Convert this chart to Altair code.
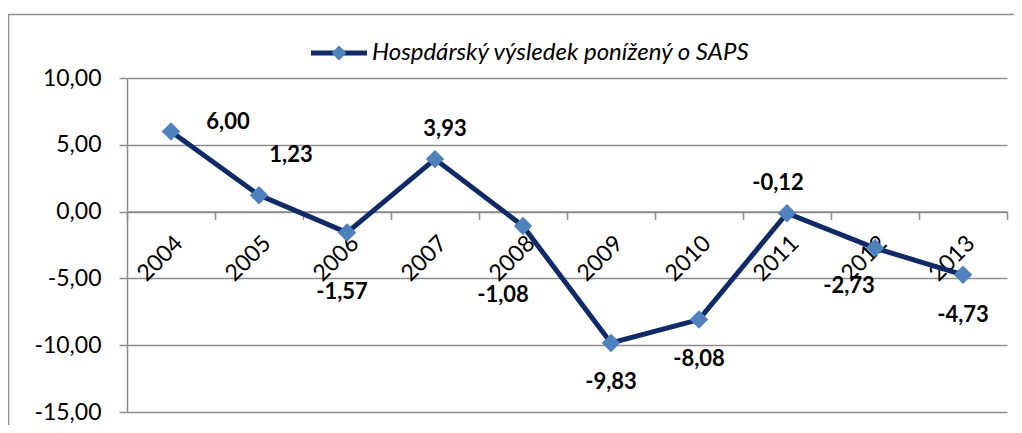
import altair as alt
import pandas as pd

# ---- data ----
years = ["2004", "2005", "2006", "2007", "2008", "2009", "2010", "2011", "2012", "2013"]
values = [6.00, 1.23, -1.57, 3.93, -1.08, -9.83, -8.08, -0.12, -2.73, -4.73]
y_ticks = [-15, -10, -5, 0, 5, 10]
series_name = "Hospdárský výsledek ponížený o SAPS"

# ---- style: data-label offsets (px) per year ----
LABEL_OFFSETS = {
    "2004": (57, -9),
    "2005": (32, -40),
    "2006": (-5, 59),
    "2007": (10, -30),
    "2008": (-20, 69),
    "2009": (0, 39),
    "2010": (0, 39),
    "2011": (-9, -30),
    "2012": (-26, 38),
    "2013": (0, 40),
}

FONT = "Lato"
GRID = "#8c8c8c"
LINE = "#0f2a66"
MARKER = "#4f81bd"
W, H = 880, 334
Y_MIN, Y_MAX = -15, 10
ZERO_OFFSET = -H * (0 - Y_MIN) / (Y_MAX - Y_MIN)

df = pd.DataFrame({"year": years, "value": values})
deco = pd.DataFrame({"name": [series_name]})

fmt = "replace(replace(format(datum.value, '.2f'), '.', ','), '\u2212', '-')"

x_enc = alt.X(
    "year:O", sort=years,
    scale=alt.Scale(type="band", paddingInner=0, paddingOuter=0),
    axis=alt.Axis(title=None, offset=ZERO_OFFSET, labelAngle=-45, labelFont=FONT,
                  labelFontSize=23, labelColor="black", labelPadding=12, labelOverlap=False,
                  tickBand="extent", tickSize=8, tickColor=GRID, tickWidth=1.5,
                  domainColor=GRID, domainWidth=1.5, grid=False),
)
y_enc = alt.Y(
    "value:Q",
    scale=alt.Scale(domain=[Y_MIN, Y_MAX], nice=False, zero=False),
    axis=alt.Axis(title=None, values=y_ticks, labelExpr=fmt, labelFont=FONT,
                  labelFontSize=23, labelColor="black", labelPadding=18,
                  tickSize=8, tickColor=GRID, tickWidth=1.5,
                  domainColor=GRID, domainWidth=1.5,
                  grid=True, gridColor=GRID, gridWidth=1.5),
)

base = alt.Chart(df).encode(x=x_enc, y=y_enc)

line = base.mark_line(color=LINE, strokeWidth=5)
points = base.mark_point(shape="diamond", filled=True, size=340, color=MARKER, opacity=1)

texts = []
for yr, (dx, dy) in LABEL_OFFSETS.items():
    texts.append(
        base.transform_filter(alt.datum.year == yr)
        .transform_calculate(label=fmt)
        .mark_text(dx=dx, dy=dy, font=FONT, fontSize=22, fontWeight="bold",
                   color="black", align="center", baseline="middle")
        .encode(text="label:N")
    )

frame = alt.Chart(deco).mark_rect(fillOpacity=0, stroke="#8f8f8f", strokeWidth=1.5).encode(
    x=alt.value(-118.5), x2=alt.value(920), y=alt.value(-63.5), y2=alt.value(420)
)
leg_line = alt.Chart(deco).mark_rule(color=LINE, strokeWidth=5).encode(
    x=alt.value(184), x2=alt.value(240), y=alt.value(-25)
)
leg_point = alt.Chart(deco).mark_point(shape="diamond", filled=True, size=220,
                                       color=MARKER, opacity=1).encode(
    x=alt.value(212), y=alt.value(-25)
)
leg_text = alt.Chart(deco).mark_text(align="left", baseline="middle", font=FONT,
                                     fontSize=24, fontStyle="italic", color="black").encode(
    x=alt.value(245), y=alt.value(-25), text="name:N"
)

chart = alt.layer(frame, line, points, *texts, leg_line, leg_point, leg_text).properties(
    width=W, height=H,
    autosize=alt.AutoSizeParams(type="none"),
    padding={"left": 119, "top": 70, "right": 7, "bottom": 13},
    background="white",
).configure_view(strokeWidth=0)

chart.save("out.html", embed_options={"renderer": "svg", "actions": False})
